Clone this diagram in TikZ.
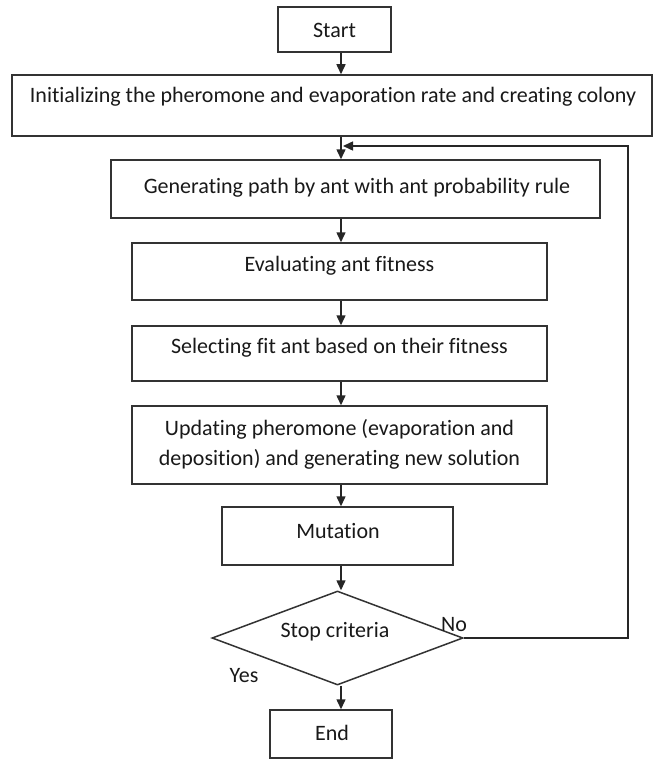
\documentclass[tikz,border=0pt]{standalone}
\usepackage{fontspec}
\setmainfont{Carlito}[Ligatures={NoCommon}]
\usetikzlibrary{shapes.geometric,arrows.meta}

\begin{document}
\begin{tikzpicture}[x=1pt,y=-1pt,
  box/.style={draw=black!80,line width=1.5pt,fill=white,inner sep=0pt},
  txt/.style={inner sep=0pt,font=\fontsize{22}{30}\selectfont,text=black!90,align=center},
  arr/.style={draw=black!85,line width=1.5pt,-{Triangle[length=10pt,width=9pt]}},
  line/.style={draw=black!85,line width=1.5pt}]
  \useasboundingbox[fill=white] (0,0) rectangle (654,760);

  % boxes
  \node[box,minimum width=113pt,minimum height=45pt] (start) at (334.5,29.5) {};
  \node[box,minimum width=640pt,minimum height=61pt] (init) at (332,105.5) {};
  \node[box,minimum width=489pt,minimum height=58pt] (gen) at (355.5,189) {};
  \node[box,minimum width=415pt,minimum height=57pt] (eval) at (339.5,271.5) {};
  \node[box,minimum width=415pt,minimum height=55pt] (sel) at (339.5,353.5) {};
  \node[box,minimum width=415pt,minimum height=78pt] (upd) at (339.5,445) {};
  \node[box,minimum width=231pt,minimum height=58pt] (mut) at (337.5,536) {};
  \node[box,diamond,minimum width=251pt,minimum height=94pt] (dia) at (337.5,638) {};
  \node[box,minimum width=122pt,minimum height=48pt] (end) at (331,734) {};

  % texts
  \node[txt] at (334.5,30) {Start};
  \node[txt] at (333,97) {Initializing the pheromone and evaporation rate and creating colony};
  \node[txt] at (357,188) {Generating path by ant with ant probability rule};
  \node[txt] at (339.5,266) {Evaluating ant fitness};
  \node[txt] at (339.5,348) {Selecting fit ant based on their fitness};
  \node[txt] at (339.5,444) {Updating pheromone (evaporation and\\deposition) and generating new solution};
  \node[txt] at (338,531) {Mutation};
  \node[txt] at (335,632) {Stop criteria};
  \node[txt] at (332,733) {End};
  \node[txt] (no) at (454,625) {No};
  \node[txt] (yes) at (244,676) {Yes};

  % main flow
  \coordinate (spine) at (341,0);
  \draw[arr] (start.south -| spine) -- (init.north -| spine);
  \draw[arr] (init.south -| spine) -- (gen.north -| spine);
  \draw[arr] (gen.south -| spine) -- (eval.north -| spine);
  \draw[arr] (eval.south -| spine) -- (sel.north -| spine);
  \draw[arr] (sel.south -| spine) -- (upd.north -| spine);
  \draw[arr] (upd.south -| spine) -- (mut.north -| spine);
  \draw[arr] (mut.south -| spine) -- (dia.north -| spine);
  \draw[arr] (dia.south -| spine) -- (end.north -| spine);

  % feedback loop
  \coordinate (loopx) at (628,0);
  \coordinate (merge) at (343,146);
  \draw[arr] (dia.east) -- (dia.east -| loopx) |- (merge);
\end{tikzpicture}
\end{document}
